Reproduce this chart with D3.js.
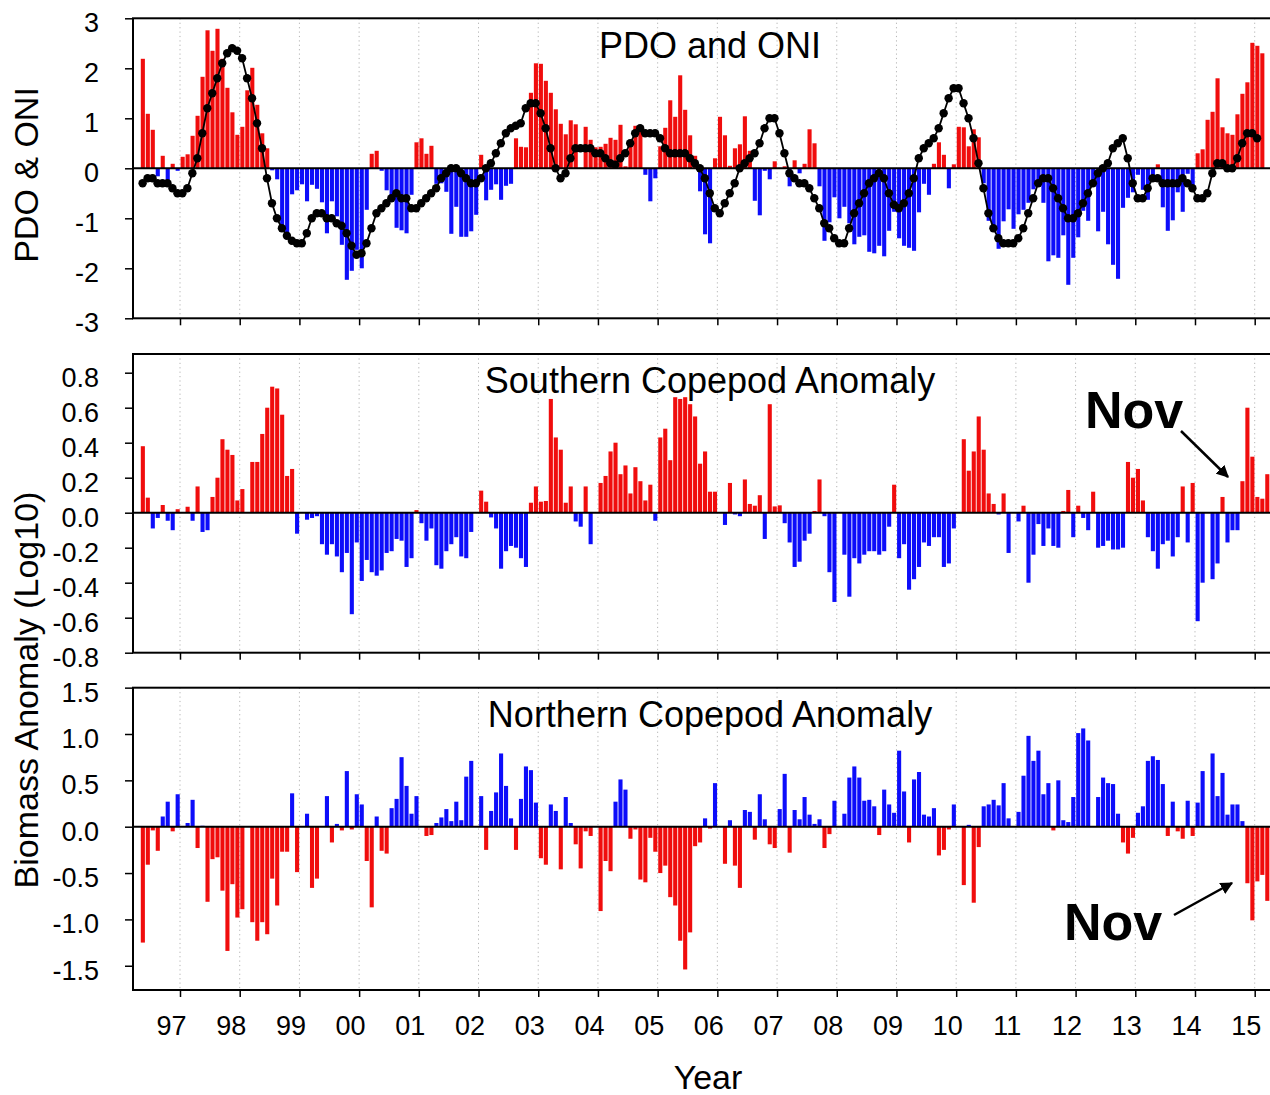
<!DOCTYPE html>
<html>
<head>
<meta charset="utf-8">
<script src="https://cdn.jsdelivr.net/npm/d3@7"></script>
<style>
  body { margin: 0; background: #fff; }
  text { font-family: "Liberation Sans", Arial, sans-serif; fill: #000; }
</style>
</head>
<body>
<svg id="chart" width="1270" height="1095"></svg>
<script>
// monthly series start in May 1996
const startYear = 1996, startMonth = 5;

const yearTicks = [1997, 1998, 1999, 2000, 2001, 2002, 2003, 2004, 2005, 2006,
                   2007, 2008, 2009, 2010, 2011, 2012, 2013, 2014, 2015];
const yearLabels = ["97", "98", "99", "00", "01", "02", "03", "04", "05", "06",
                    "07", "08", "09", "10", "11", "12", "13", "14", "15"];

const pdoTicks = [-3, -2, -1, 0, 1, 2, 3];
const southTicks = [-0.8, -0.6, -0.4, -0.2, 0, 0.2, 0.4, 0.6, 0.8];
const northTicks = [-1.5, -1.0, -0.5, 0, 0.5, 1.0, 1.5];

// PDO monthly (bars)
const pdo = [
  2.19, 1.09, 0.77, -0.16, 0.25, -0.26, 0.09, -0.05,
  0.23, 0.28, 0.65, 1.05, 1.83, 2.76, 2.35, 2.79, 2.19, 1.61, 1.12, 0.67,
  0.83, 1.56, 2.01, 1.27, 0.70, 0.40, -0.04, -0.22, -1.21, -1.39, -0.52, -0.44,
  -0.32, -0.66, -0.33, -0.41, -0.68, -1.30, -0.66, -0.96, -1.53, -2.23, -2.05, -1.63,
  -2.00, -0.83, 0.29, 0.35, -0.05, -0.44, -0.66, -1.19, -1.24, -1.30, -0.53, 0.52,
  0.60, 0.29, 0.45, -0.31, -0.30, -0.47, -1.31, -0.77, -1.37, -1.37, -1.26, -0.93,
  0.27, -0.64, -0.43, -0.32, -0.63, -0.35, -0.31, 0.60, 0.43, 0.42, 1.51, 2.10,
  2.09, 1.75, 1.51, 1.18, 0.89, 0.68, 0.96, 0.88, 0.01, 0.83, 0.57, 0.42,
  0.43, 0.49, 0.61, 0.57, 0.87, 0.04, 0.44, 0.85, 0.75, -0.13, -0.66, -0.20,
  0.44, 0.81, 1.36, 1.03, 1.86, 1.17, 0.66, 0.25, -0.46, -1.32, -1.50, 0.20,
  1.03, 0.66, 0.05, 0.40, 0.48, 1.04, 0.35, -0.65, -0.94, -0.05, -0.22, 0.14,
  0.01, 0.04, -0.36, 0.16, -0.10, 0.09, 0.78, 0.50, -0.36, -1.45, -1.08, -0.58,
  -1.00, -0.77, -1.10, -1.52, -1.37, -1.34, -1.67, -1.70, -1.55, -1.76, -1.25, -0.87,
  -1.40, -1.55, -1.59, -1.65, -0.88, -0.31, -0.53, 0.09, 0.52, 0.27, -0.40, 0.08,
  0.83, 0.82, 0.44, 0.78, 0.62, -0.30, -1.05, -1.27, -1.61, -1.06, -0.82, -1.21,
  -0.92, -0.83, -0.69, -0.42, -0.37, -0.69, -1.86, -1.74, -1.79, -1.34, -2.33, -1.79,
  -1.38, -0.85, -1.05, -0.27, -1.26, -0.87, -1.52, -1.93, -2.21, -0.79, -0.59, -0.48,
  -0.13, -0.43, -0.63, -0.16, 0.08, -0.78, -1.25, -1.04, -0.48, -0.87, -0.11, -0.41,
  0.30, 0.38, 0.97, 1.13, 1.80, 0.82, 0.70, 0.67, 1.08, 1.49, 1.72, 2.51,
  2.45, 2.30
];

// ONI (line with dots)
const oni = [
  -0.3, -0.2, -0.2, -0.3, -0.3, -0.3, -0.4, -0.5,
  -0.5, -0.4, -0.1, 0.2, 0.7, 1.2, 1.5, 1.8, 2.1, 2.3, 2.4, 2.35,
  2.2, 1.8, 1.4, 0.9, 0.4, -0.2, -0.7, -1.0, -1.2, -1.35, -1.45, -1.5,
  -1.5, -1.3, -1.0, -0.9, -0.9, -1.0, -1.0, -1.1, -1.15, -1.3, -1.55, -1.73,
  -1.7, -1.5, -1.2, -0.9, -0.8, -0.7, -0.6, -0.5, -0.6, -0.6, -0.8, -0.8,
  -0.7, -0.6, -0.5, -0.4, -0.2, -0.1, 0.0, 0.0, -0.1, -0.2, -0.3, -0.3,
  -0.2, 0.0, 0.1, 0.3, 0.5, 0.7, 0.8, 0.85, 0.9, 1.2, 1.3, 1.3,
  1.1, 0.8, 0.4, 0.0, -0.2, -0.1, 0.2, 0.4, 0.4, 0.4, 0.4, 0.3,
  0.3, 0.2, 0.1, 0.07, 0.2, 0.3, 0.5, 0.7, 0.8, 0.7, 0.7, 0.7,
  0.6, 0.4, 0.3, 0.3, 0.3, 0.3, 0.2, 0.1, 0.0, -0.2, -0.5, -0.8,
  -0.9, -0.7, -0.5, -0.3, 0.0, 0.1, 0.2, 0.3, 0.5, 0.8, 1.0, 1.0,
  0.7, 0.3, -0.1, -0.2, -0.3, -0.3, -0.4, -0.6, -0.8, -1.1, -1.2, -1.4,
  -1.5, -1.5, -1.2, -0.9, -0.7, -0.5, -0.3, -0.2, -0.1, -0.2, -0.5, -0.73,
  -0.8, -0.7, -0.5, -0.2, 0.2, 0.4, 0.5, 0.6, 0.8, 1.1, 1.4, 1.6,
  1.6, 1.3, 1.0, 0.6, 0.1, -0.4, -0.9, -1.2, -1.4, -1.5, -1.5, -1.5,
  -1.4, -1.2, -0.9, -0.6, -0.3, -0.2, -0.2, -0.4, -0.6, -0.8, -1.0, -1.0,
  -0.9, -0.7, -0.5, -0.3, -0.1, 0.0, 0.1, 0.4, 0.5, 0.6, 0.2, -0.3,
  -0.6, -0.6, -0.4, -0.2, -0.2, -0.3, -0.3, -0.3, -0.3, -0.2, -0.3, -0.4,
  -0.6, -0.6, -0.5, -0.1, 0.1, 0.1, 0.0, 0.0, 0.2, 0.5, 0.7, 0.7,
  0.6
];

// Southern copepod biomass anomaly
const southern = [
  0.38, 0.086, -0.09, -0.03, 0.044, -0.046, -0.10, 0.02,
  0, 0.034, -0.046, 0.15, -0.11, -0.10, 0.09, 0.20, 0.42, 0.36, 0.33, 0.07,
  0.135, 0, 0.29, 0.29, 0.45, 0.60, 0.72, 0.71, 0.56, 0.21, 0.25, -0.12,
  0, -0.04, -0.03, -0.02, -0.18, -0.24, -0.18, -0.25, -0.34, -0.23, -0.58, -0.17,
  -0.39, -0.27, -0.34, -0.36, -0.33, -0.23, -0.22, -0.15, -0.16, -0.31, -0.26, 0.015,
  -0.06, -0.16, -0.09, -0.30, -0.32, -0.22, -0.18, -0.14, -0.25, -0.26, -0.11, 0,
  0.126, 0.063, -0.027, -0.09, -0.32, -0.22, -0.19, -0.20, -0.26, -0.31, 0.057, 0.15,
  0.063, 0.067, 0.65, 0.43, 0.36, 0.057, 0.15, -0.05, -0.08, 0.15, -0.18, 0,
  0.17, 0.21, 0.35, 0.40, 0.22, 0.27, 0.11, 0.26, 0.18, 0.07, 0.16, -0.046,
  0.43, 0.48, 0.30, 0.66, 0.65, 0.66, 0.62, 0.55, 0.28, 0.35, 0.12, 0.12,
  0, -0.07, 0.17, -0.01, -0.02, 0.19, 0.05, 0.04, 0.10, -0.15, 0.62, 0.036,
  0.042, -0.06, -0.17, -0.31, -0.28, -0.16, -0.12, 0.01, 0.19, -0.02, -0.34, -0.51,
  0, -0.24, -0.48, -0.26, -0.29, -0.24, -0.22, -0.22, -0.24, -0.22, -0.08, 0.16,
  -0.26, -0.18, -0.44, -0.38, -0.31, -0.17, -0.19, -0.14, -0.14, -0.31, -0.29, -0.09,
  0, 0.42, 0.24, 0.35, 0.55, 0.36, 0.11, 0.05, -0.01, 0.11, -0.23, 0,
  -0.05, 0.04, -0.40, -0.24, -0.065, -0.19, -0.09, -0.19, -0.20, 0.01, 0.13, -0.14,
  0.04, -0.03, -0.10, 0.12, -0.20, -0.19, -0.16, -0.21, -0.21, -0.20, 0.29, 0.20,
  0.25, 0.07, -0.14, -0.22, -0.32, -0.18, -0.16, -0.25, -0.14, 0.15, -0.17, 0.17,
  -0.62, -0.40, 0, -0.38, -0.29, 0.09, -0.17, -0.10, -0.10, 0.18, 0.60, 0.32,
  0.09, 0.08, 0.22, 0.38
];

// Northern copepod biomass anomaly
const northern = [
  -1.25, -0.41, -0.04, -0.26, 0.11, 0.27, -0.05, 0.35,
  0, 0.04, 0.29, -0.23, 0.01, -0.81, -0.35, -0.33, -0.69, -1.34, -0.62, -0.98,
  -0.89, 0, -1.03, -1.23, -1.03, -1.16, -0.56, -0.85, -0.27, -0.27, 0.36, -0.49,
  0, 0.14, -0.66, -0.56, 0, 0.33, -0.17, 0.03, -0.04, 0.60, -0.03, 0.35,
  0.24, -0.37, -0.87, 0.11, -0.26, -0.29, 0.20, 0.30, 0.75, 0.44, 0.14, 0.33,
  0, -0.10, -0.09, 0.04, 0.10, 0.19, 0.06, 0.27, 0.07, 0.54, 0.71, 0,
  0.33, -0.25, 0.17, 0.37, 0.79, 0.44, 0.09, -0.25, 0.30, 0.65, 0.61, 0.26,
  -0.34, -0.41, 0.24, 0.17, -0.46, 0.32, 0.04, -0.19, -0.45, -0.05, -0.10, 0,
  -0.91, -0.37, -0.48, 0.27, 0.51, 0.40, -0.13, -0.03, -0.57, -0.60, -0.12, -0.27,
  -0.50, -0.42, -0.76, -0.85, -1.23, -1.54, -1.14, -0.21, -0.17, 0.09, -0.02, 0.47,
  0, -0.40, 0.07, -0.42, -0.66, 0.18, 0.16, -0.14, 0.35, 0.08, -0.19, -0.23,
  0.19, 0.57, -0.28, 0.18, 0.08, 0.32, 0.13, 0.03, 0.08, -0.23, -0.08, 0.28,
  0, 0.14, 0.53, 0.65, 0.53, 0.28, 0.29, 0.22, -0.09, 0.40, 0.24, 0.15,
  0.82, 0.38, -0.17, 0.51, 0.59, 0.13, 0.11, 0.20, -0.31, -0.25, -0.03, 0.24,
  0, -0.63, 0.02, -0.82, -0.22, 0.22, 0.24, 0.29, 0.23, 0.47, 0.09, 0,
  0.16, 0.55, 0.98, 0.71, 0.82, 0.35, 0.47, -0.04, 0.50, 0.07, 0.05, 0.32,
  1.01, 1.06, 0.93, 0, 0.32, 0.53, 0.47, 0.46, 0.14, -0.17, -0.29, -0.12,
  0.15, 0.22, 0.71, 0.76, 0.72, 0.46, -0.10, 0.27, -0.05, -0.13, 0.28, -0.10,
  0.26, 0.60, 0, 0.79, 0.33, 0.58, 0.13, 0.24, 0.24, 0.06, -0.61, -1.01,
  -0.59, -0.52, -0.80
];

const RED = "#f00d0d", BLUE = "#0d0dfa";

const svg = d3.select("#chart");
const plotLeft = 133, plotRight = 1272;
const x = d3.scaleLinear().domain([1997, 2015]).range([180, 1254.7]);
const monthDate = i => startYear + (startMonth - 1 + i) / 12;

const panels = [
  { id: "p1", frameTop: 18.3, frameBottom: 318.3, domain: [-3, 3], range: [318.3, 18.3],
    ticks: pdoTicks, fmt: d => String(d), title: "PDO and ONI", titleY: 57.7,
    values: pdo, pos: RED, neg: BLUE },
  { id: "p2", frameTop: 354, frameBottom: 652.7, domain: [-0.8, 0.8], range: [652.7, 372.7],
    ticks: southTicks, fmt: d => d.toFixed(1), title: "Southern Copepod Anomaly", titleY: 393,
    values: southern, pos: RED, neg: BLUE },
  { id: "p3", frameTop: 687.7, frameBottom: 990, domain: [-1.5, 1.5], range: [965.75, 687.65],
    ticks: northTicks, fmt: d => d.toFixed(1), title: "Northern Copepod Anomaly", titleY: 727,
    values: northern, pos: BLUE, neg: RED }
];

const defs = svg.append("defs");
defs.append("marker")
  .attr("id", "arrow")
  .attr("viewBox", "0 0 10 10")
  .attr("refX", 9).attr("refY", 5)
  .attr("markerWidth", 5).attr("markerHeight", 5)
  .attr("orient", "auto")
  .append("path").attr("d", "M0,0 L10,5 L0,10 Z").attr("fill", "#000");

panels.forEach(p => {
  const y = d3.scaleLinear().domain(p.domain).range(p.range);
  const g = svg.append("g");

  defs.append("clipPath").attr("id", "clip-" + p.id)
    .append("rect")
    .attr("x", plotLeft).attr("y", p.frameTop)
    .attr("width", plotRight - plotLeft).attr("height", p.frameBottom - p.frameTop);

  // dotted year grid
  g.selectAll(".grid").data(yearTicks).enter().append("line")
    .attr("x1", d => x(d)).attr("x2", d => x(d))
    .attr("y1", p.frameTop).attr("y2", p.frameBottom)
    .attr("stroke", "#b4b4b4").attr("stroke-width", 1)
    .attr("stroke-dasharray", "1.2,3.2");

  // bars
  const bars = p.values.map((v, i) => ({ t: monthDate(i), v: v })).filter(d => d.v !== 0);
  g.append("g").attr("clip-path", `url(#clip-${p.id})`)
    .selectAll("rect").data(bars).enter().append("rect")
    .attr("x", d => x(d.t) + 0.6)
    .attr("width", 4.1)
    .attr("y", d => Math.min(y(d.v), y(0)))
    .attr("height", d => Math.abs(y(d.v) - y(0)))
    .attr("fill", d => d.v > 0 ? p.pos : p.neg);

  // zero line
  g.append("line")
    .attr("x1", plotLeft).attr("x2", plotRight)
    .attr("y1", y(0)).attr("y2", y(0))
    .attr("stroke", "#000").attr("stroke-width", 2);

  // ONI line in the top panel
  if (p.id === "p1") {
    const pts = oni.map((v, i) => ({ t: monthDate(i), v: v }));
    const line = d3.line().x(d => x(d.t) + 2.4).y(d => y(d.v));
    g.append("path").datum(pts)
      .attr("d", line).attr("fill", "none")
      .attr("stroke", "#000").attr("stroke-width", 1.8);
    g.selectAll(".dot").data(pts).enter().append("circle")
      .attr("cx", d => x(d.t) + 2.4).attr("cy", d => y(d.v))
      .attr("r", 4.2).attr("fill", "#000");
  }

  // frame
  g.append("rect")
    .attr("x", plotLeft).attr("y", p.frameTop)
    .attr("width", plotRight - plotLeft).attr("height", p.frameBottom - p.frameTop)
    .attr("fill", "none").attr("stroke", "#000").attr("stroke-width", 2);

  // y axis
  const ya = svg.append("g").attr("transform", `translate(${plotLeft},0)`)
    .call(d3.axisLeft(y).tickValues(p.ticks).tickFormat(p.fmt).tickSize(8).tickPadding(26));
  ya.select(".domain").remove();
  ya.selectAll(".tick line").attr("stroke", "#000").attr("stroke-width", 1.5);
  ya.selectAll(".tick text")
    .attr("font-size", 27).attr("font-family", '"Liberation Sans", Arial, sans-serif')
    .attr("dy", "0.5em").attr("fill", "#000");

  // x ticks at the bottom of each panel
  const xa = svg.append("g").attr("transform", `translate(0,${p.frameBottom})`)
    .call(d3.axisBottom(x).tickValues(yearTicks).tickSize(7)
      .tickFormat((d, i) => p.id === "p3" ? yearLabels[i] : "").tickPadding(18.8));
  xa.select(".domain").remove();
  xa.selectAll(".tick line").attr("stroke", "#000").attr("stroke-width", 1.5);
  xa.selectAll(".tick text")
    .attr("font-size", 27).attr("font-family", '"Liberation Sans", Arial, sans-serif')
    .attr("x", -9).attr("fill", "#000");

  // panel title
  svg.append("text")
    .attr("x", 710).attr("y", p.titleY)
    .attr("text-anchor", "middle").attr("font-size", 36)
    .text(p.title);
});

// axis titles
svg.append("text")
  .attr("transform", "translate(38,175) rotate(-90)")
  .attr("text-anchor", "middle").attr("font-size", 34)
  .text("PDO & ONI");
svg.append("text")
  .attr("transform", "translate(38,690) rotate(-90)")
  .attr("text-anchor", "middle").attr("font-size", 34)
  .text("Biomass Anomaly (Log10)");
svg.append("text")
  .attr("x", 708).attr("y", 1089)
  .attr("text-anchor", "middle").attr("font-size", 34)
  .text("Year");

// "Nov" annotations
const notes = [
  { x: 1085, y: 428, x1: 1181, y1: 431, x2: 1228, y2: 477 },
  { x: 1064, y: 940, x1: 1174, y1: 915, x2: 1232, y2: 883 }
];
notes.forEach(n => {
  svg.append("text")
    .attr("x", n.x).attr("y", n.y)
    .attr("font-size", 52).attr("font-weight", "bold")
    .text("Nov");
  svg.append("line")
    .attr("x1", n.x1).attr("y1", n.y1).attr("x2", n.x2).attr("y2", n.y2)
    .attr("stroke", "#000").attr("stroke-width", 2.5)
    .attr("marker-end", "url(#arrow)");
});
</script>
</body>
</html>
